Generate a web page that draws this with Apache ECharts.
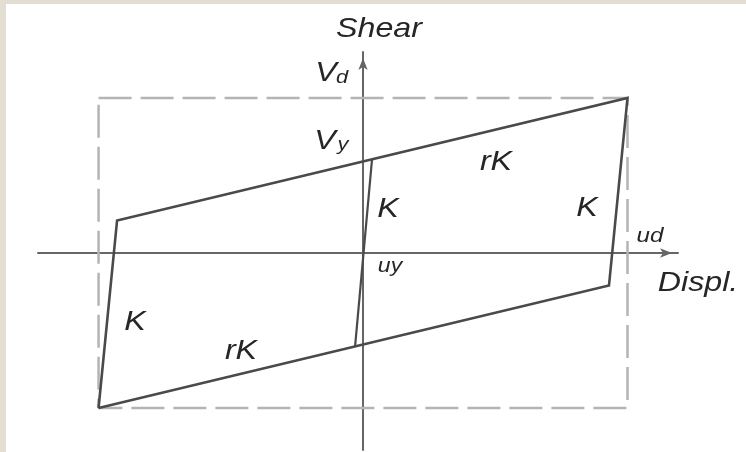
<!DOCTYPE html>
<html>
<head>
<meta charset="utf-8">
<script src="https://cdn.jsdelivr.net/npm/echarts@6/dist/echarts.min.js"></script>
<style>
  html, body { margin: 0; padding: 0; background: #e4ddd1; }
  #frame { position: absolute; left: 6px; top: 4px; width: 740px; height: 448px; background: #ffffff; }
  #chart { position: absolute; left: 0; top: 0; width: 746px; height: 452px; }
</style>
</head>
<body>
<div id="frame"></div>
<div id="chart"></div>
<script>
// Bilinear hysteresis loop, normalised so that u_d = 1 and V_d = 1.
const loopDispl = [-1, 0.93, 1, -0.93, -1];
const loopShear = [-1, -0.21, 1, 0.21, -1];

// Elastic unloading branch through the origin (stiffness K).
const elasticDispl = [-0.03, 0.034];
const elasticShear = [-0.603, 0.604];

// Envelope box at ±u_d, ±V_d.
const boxDispl = [-1, 1, 1, -1, -1];
const boxShear = [1, 1, -1, -1, 1];

// Axis extents.
const displRange = [-1.229, 1.191];
const shearRange = [-1.271, 1.297];

const pairs = (xs, ys) => xs.map((x, i) => [x, ys[i]]);

const chart = echarts.init(document.getElementById('chart'), null, { renderer: 'canvas' });

const axisLineStyle = { color: '#666666', width: 2 };

chart.setOption({
  animation: false,
  backgroundColor: 'transparent',
  grid: { left: 38, right: 68, top: 52, bottom: 2, containLabel: false },
  xAxis: {
    type: 'value', min: displRange[0], max: displRange[1],
    axisLine: { show: true, onZero: true, lineStyle: axisLineStyle, symbol: ['none', 'arrow'], symbolSize: [7, 12], symbolOffset: [0, -6] },
    axisTick: { show: false }, axisLabel: { show: false }, splitLine: { show: false }
  },
  yAxis: {
    type: 'value', min: shearRange[0], max: shearRange[1],
    axisLine: { show: true, onZero: true, lineStyle: axisLineStyle, symbol: ['none', 'arrow'], symbolSize: [7, 12], symbolOffset: [0, -6] },
    axisTick: { show: false }, axisLabel: { show: false }, splitLine: { show: false }
  },
  series: [
    {
      name: 'envelope', type: 'line', data: pairs(boxDispl, boxShear),
      symbol: 'none', silent: true, z: 1,
      lineStyle: { color: '#b4b4b4', width: 2.5, type: [33, 9] }
    },
    {
      name: 'loop', type: 'line', data: pairs(loopDispl, loopShear),
      symbol: 'none', silent: true, z: 3,
      lineStyle: { color: '#4a4a4a', width: 2.6, join: 'miter' }
    },
    {
      name: 'elastic', type: 'line', data: pairs(elasticDispl, elasticShear),
      symbol: 'none', silent: true, z: 3,
      lineStyle: { color: '#4a4a4a', width: 2.2 }
    }
  ]
});

// Annotation text (centre x, centre y, text, font size).
const notes = [
  [379, 29, 'Shear', 28],
  [326, 73, 'V', 28],
  [342, 78, 'd', 19],
  [325, 141, 'V', 28],
  [343, 145, 'y', 19],
  [388, 209, 'K', 28],
  [496, 162, 'rK', 28],
  [587, 208, 'K', 28],
  [650, 236, 'ud', 21],
  [390, 266, 'uy', 20],
  [698, 283, 'Displ.', 28],
  [135, 322, 'K', 28],
  [241, 351, 'rK', 28]
];

chart.setOption({
  graphic: notes.map(([x, y, t, s]) => ({
    type: 'text', x: x, y: y, scaleX: 1.15, silent: true, z: 10,
    style: {
      text: t, x: 0, y: 0,
      font: 'italic ' + s + 'px "Liberation Sans", Arial, sans-serif',
      fill: '#262626', textAlign: 'center', textVerticalAlign: 'middle'
    }
  }))
});
</script>
</body>
</html>
